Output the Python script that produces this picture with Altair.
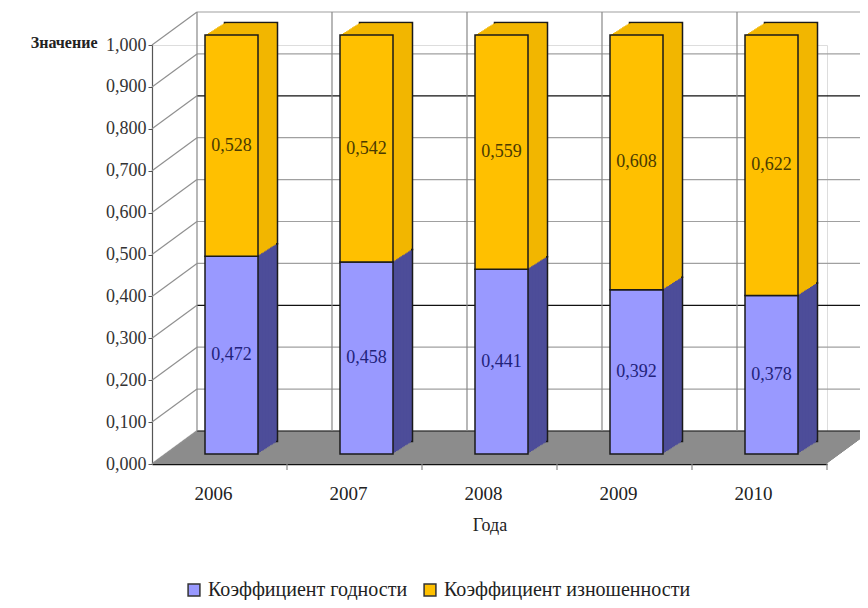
import altair as alt
import pandas as pd

years = ["2006", "2007", "2008", "2009", "2010"]
godnost = [0.472, 0.458, 0.441, 0.392, 0.378]
iznos = [0.528, 0.542, 0.559, 0.608, 0.622]
series_names = ["Коэффициент годности", "Коэффициент изношенности"]
front_colors = ["#9999FF", "#FFC000"]
side_colors = ["#4D4D99", "#F2B600"]
text_colors = ["#22227A", "#4A3A00"]
tick_values = [0.0, 0.1, 0.2, 0.3, 0.4, 0.5, 0.6, 0.7, 0.8, 0.9, 1.0]

W, H = 675, 419
PL, PT = 144, 37
DEPTH_X, DEPTH_Y = 45, 33          # back-wall offset
BAR_DX, BAR_DY = 12, 10            # bar front-face offset
EXT_X, EXT_Y, NEXT = 19.5, 12.5, 13  # bar extrusion
FONT = "Liberation Serif, Times New Roman, serif"

rows = []
for i, yr in enumerate(years):
    lo = 0.0
    for s, vals in enumerate([godnost, iznos]):
        v = vals[i]
        rows.append({
            "year": yr, "series": series_names[s], "ord": s,
            "value": v, "lo": lo, "hi": lo + v, "mid": lo + v / 2,
            "side": side_colors[s], "tcol": text_colors[s],
            "label": f"{v:.3f}".replace(".", ","),
        })
        lo += v
df = pd.DataFrame(rows)
ticks_df = pd.DataFrame({"t": tick_values})
years_df = pd.DataFrame({"year": years})
one = pd.DataFrame({"k": [0]})

xenc = alt.X("year:N", sort=years,
             scale=alt.Scale(paddingInner=0, paddingOuter=0),
             axis=alt.Axis(title="Года", ticks=False, labelOffset=13,
                           labelAngle=0, labelFont=FONT, labelFontSize=19,
                           labelColor="#222", labelPadding=29,
                           domainColor="#111",
                           domainWidth=1.6, titleFont=FONT, titleFontSize=18,
                           titleFontWeight="normal", titleColor="#222",
                           titlePadding=13))
yscale = alt.Scale(domain=[0, 1], nice=False, zero=True)

layers = []

# floor (stack of thin strips forming a parallelogram)
NF = 33
for k in range(NF):
    ox = k * DEPTH_X / NF
    layers.append(
        alt.Chart(one).mark_rect(color="#8C8C8C", xOffset=ox, x2Offset=ox,
                                 yOffset=-k, y2Offset=-(k + 1.2))
        .encode(x=alt.value(0), x2=alt.value(W),
                y=alt.datum(0, scale=yscale), y2=alt.datum(0))
    )

# back wall horizontal grid lines
layers.append(
    alt.Chart(ticks_df).mark_rule(yOffset=-DEPTH_Y, strokeWidth=1.2)
    .encode(x=alt.value(DEPTH_X), x2=alt.value(W + DEPTH_X + 10),
            y=alt.Y("t:Q", scale=yscale),
            color=alt.condition("datum.t == 0.8 || datum.t == 0.3 || datum.t == 0",
                                alt.value("#111"), alt.value("#A0A0A0")))
)
# back wall vertical lines
layers.append(
    alt.Chart(years_df).mark_rule(color="#888", xOffset=DEPTH_X,
                                  yOffset=-DEPTH_Y, y2Offset=-DEPTH_Y, strokeWidth=1.2)
    .encode(x=alt.X("year:N", sort=years, bandPosition=0),
            y=alt.datum(0), y2=alt.datum(1))
)
# left wall diagonals
layers.append(
    alt.Chart(ticks_df).mark_rule(color="#909090", y2Offset=-DEPTH_Y, strokeWidth=1.2)
    .encode(x=alt.value(0), x2=alt.value(DEPTH_X),
            y=alt.Y("t:Q"), y2=alt.Y2("t:Q"))
)
# x-axis tick marks at category boundaries
layers.append(
    alt.Chart(years_df).mark_rule(color="#888", strokeWidth=1.2, y2Offset=6)
    .encode(x=alt.X("year:N", sort=years, bandPosition=1),
            y=alt.datum(0), y2=alt.datum(0))
)

# bar extrusions (back to front)
for k in range(NEXT, 0, -1):
    ox = BAR_DX + k * EXT_X / NEXT
    oy = -BAR_DY - k * EXT_Y / NEXT
    props = dict(width=53, xOffset=ox, yOffset=oy, y2Offset=oy)
    if k == NEXT:
        props.update(stroke="#1a1a1a", strokeWidth=1.5)
    layers.append(
        alt.Chart(df).mark_bar(**props)
        .encode(x=alt.X("year:N", sort=years), y=alt.Y("hi:Q", scale=yscale),
                y2="lo:Q", fill=alt.Fill("side:N", scale=None))
    )

# front faces
layers.append(
    alt.Chart(df).mark_bar(width=53, xOffset=BAR_DX, yOffset=-BAR_DY, y2Offset=-BAR_DY,
                           stroke="#1a1a1a", strokeWidth=1.5)
    .encode(x=xenc,
            y=alt.Y("hi:Q", scale=yscale,
                    axis=alt.Axis(title="Значение", values=tick_values,
                                  labelExpr="replace(format(datum.value, '.3f'), '.', ',')",
                                  labelFont=FONT, labelFontSize=18, labelColor="#333",
                                  labelPadding=2, tickSize=4, tickColor="#555",
                                  domainColor="#555", domainWidth=1.2, grid=False,
                                  titleAngle=0, titleAlign="right", titleBaseline="middle",
                                  titleX=-55, titleY=-3, titleFont=FONT,
                                  titleFontSize=16, titleFontWeight="bold",
                                  titleColor="#222")),
            y2="lo:Q",
            color=alt.Color("series:N",
                            scale=alt.Scale(domain=series_names, range=front_colors),
                            legend=alt.Legend(orient="none", legendX=32, legendY=535,
                                              direction="horizontal", title=None,
                                              symbolType="square", symbolSize=140,
                                              symbolStrokeColor="#333",
                                              symbolStrokeWidth=1.5,
                                              labelFont=FONT, labelFontSize=20,
                                              labelColor="#222", columnPadding=12,
                                              labelLimit=400)),
            order=alt.Order("ord:Q"))
)

# value labels
layers.append(
    alt.Chart(df).mark_text(dx=BAR_DX, dy=-BAR_DY, font=FONT, fontSize=18)
    .encode(x=alt.X("year:N", sort=years), y=alt.Y("mid:Q", scale=yscale),
            text="label:N", color=alt.Color("tcol:N", scale=None))
)

chart = alt.layer(*layers).properties(
    width=W, height=H,
    autosize=alt.AutoSizeParams(type="none"),
    padding={"left": PL, "top": PT, "right": 852 - PL - W, "bottom": 592 - PT - H},
).configure_view(stroke=None).configure(background="white")

chart.save("out.html", embed_options={"renderer": "svg", "actions": False})
